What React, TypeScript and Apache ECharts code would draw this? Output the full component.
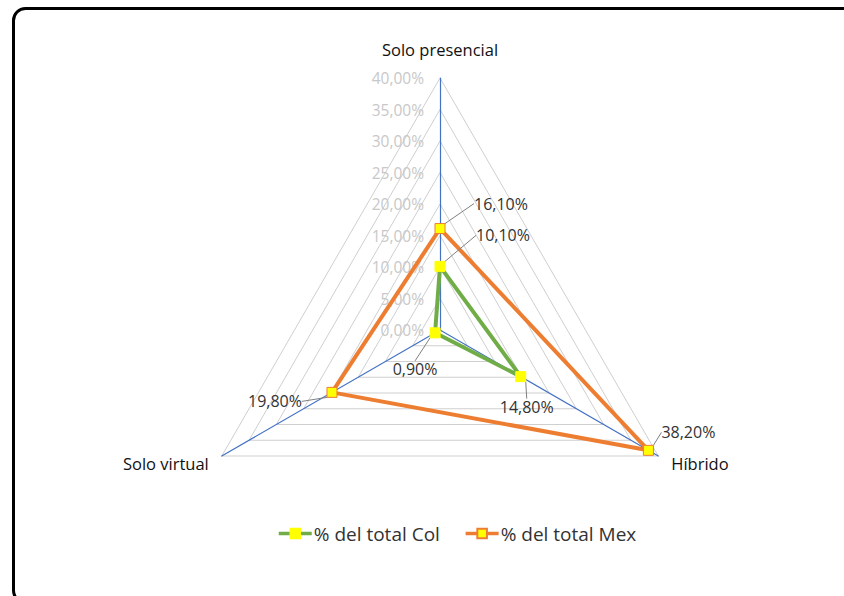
import React, { useEffect, useRef } from 'react';
import * as echarts from 'echarts';

// Radar axes, listed counter-clockwise from the top vertex
const indicatorNames = ['Solo presencial', 'Solo virtual', 'Híbrido'];
const seriesNames = ['% del total Col', '% del total Mex'];
const colValues = [10.1, 0.9, 14.8];
const mexValues = [16.1, 19.8, 38.2];
const axisMin = 0;
const axisMax = 40;
const splitCount = 8;

// Label placement relative to each marker centre, per axis (dx, dy)
const colLabelOffsets = [[63, -31], [-20, 36], [6, 30]];
const mexLabelOffsets = [[61, -25], [-57, 9], [40, -18]];

const FONT = '"Open Sans", "Noto Sans", sans-serif';
const GREEN = '#70ad47';
const ORANGE = '#ed7d31';
const YELLOW = '#ffff00';
const NAME_SIZE = 16.5;

const fmtPct = (v: number) => v.toFixed(2).replace('.', ',') + '%';

function labelLayoutFor(values: number[], offsets: number[][]) {
  const texts = values.map(fmtPct);
  return (params: any) => {
    const i = texts.indexOf(params.text);
    if (i < 0) return {};
    const r = params.rect;
    return {
      x: r.x + r.width / 2 + offsets[i][0],
      y: r.y + r.height / 2 + offsets[i][1],
      align: 'center',
      verticalAlign: 'middle',
    };
  };
}

function radarSeries(name: string, values: number[], color: string, border: string, offsets: number[][]) {
  return {
    type: 'radar',
    name,
    symbol: 'rect',
    symbolSize: 10,
    itemStyle: { color: YELLOW, borderColor: border, borderWidth: 1 },
    lineStyle: { color, width: 4 },
    label: {
      show: true,
      formatter: (p: any) => fmtPct(p.value),
      color: '#333333',
      fontSize: 16,
      fontFamily: FONT,
    },
    labelLine: { show: true, lineStyle: { color: '#808080', width: 1 } },
    labelLayout: labelLayoutFor(values, offsets),
    data: [{ value: values, name }],
    z: 3,
  };
}

function legendSeries(name: string, color: string, border: string) {
  return {
    type: 'line',
    name,
    data: [],
    symbol: 'rect',
    itemStyle: { color: YELLOW, borderColor: border, borderWidth: 1 },
    lineStyle: { color, width: 4 },
  };
}

export default function App() {
  const ref = useRef<HTMLDivElement>(null);

  useEffect(() => {
    const chart = echarts.init(ref.current!, null, { renderer: 'svg' });
    chart.setOption({
      animation: false,
      backgroundColor: '#ffffff',
      textStyle: { fontFamily: FONT },
      grid: { left: -50, top: -50, width: 10, height: 10, show: false },
      xAxis: { show: false, type: 'value' },
      yAxis: { show: false, type: 'value' },
      legend: {
        data: seriesNames,
        left: 272,
        top: 519,
        itemWidth: 33,
        itemHeight: 12,
        itemGap: 24,
        lineStyle: { width: 3.5 },
        textStyle: { fontSize: 19, color: '#333333', fontFamily: FONT, padding: [0, 0, 0, -3] },
      },
      radar: {
        center: [440, 330],
        radius: 252,
        startAngle: 90,
        shape: 'polygon',
        splitNumber: splitCount,
        nameGap: 15,
        axisName: {
          color: '#111111',
          fontSize: NAME_SIZE,
          fontFamily: FONT,
          formatter: (name: string) => (name === indicatorNames[0] ? `{top|${name}}` : name),
          rich: {
            top: { color: '#111111', fontSize: NAME_SIZE, fontFamily: FONT, padding: [0, 0, 5, 0] },
          },
        },
        axisLine: { lineStyle: { color: '#4472c4', width: 1.2 } },
        splitLine: { lineStyle: { color: '#cfcfcf', width: 1 } },
        splitArea: { show: false },
        axisTick: { show: false },
        axisLabel: {
          show: false,
          color: '#c8c8c8',
          fontSize: 15.5,
          fontFamily: FONT,
          margin: 16,
          formatter: (v: number) => fmtPct(v),
        },
        indicator: indicatorNames.map((name, i) => ({
          name,
          min: axisMin,
          max: axisMax,
          axisLabel: { show: i === 0 },
        })),
      },
      series: [
        legendSeries(seriesNames[0], GREEN, YELLOW),
        legendSeries(seriesNames[1], ORANGE, ORANGE),
        radarSeries(seriesNames[0], colValues, GREEN, YELLOW, colLabelOffsets),
        radarSeries(seriesNames[1], mexValues, ORANGE, ORANGE, mexLabelOffsets),
      ],
      graphic: [
        {
          type: 'rect',
          silent: true,
          z: 100,
          shape: { x: 13.5, y: 8.5, width: 860, height: 594, r: 12 },
          style: { fill: 'none', stroke: '#000000', lineWidth: 3 },
        },
      ],
    });
    return () => chart.dispose();
  }, []);

  return (
    <div
      ref={ref}
      style={{ position: 'absolute', left: 0, top: 0, width: 844, height: 596, background: '#ffffff' }}
    />
  );
}
